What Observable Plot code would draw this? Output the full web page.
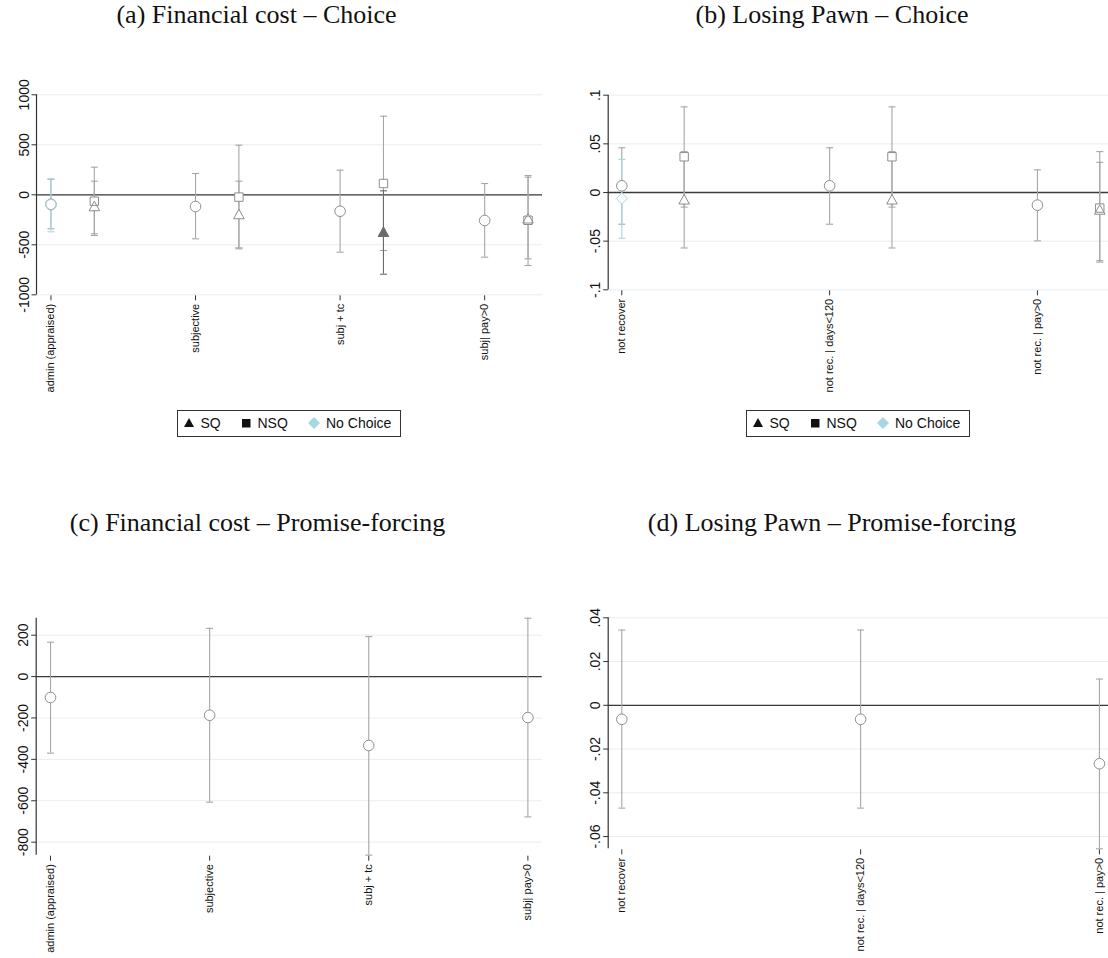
<!DOCTYPE html>
<html><head><meta charset="utf-8">
<script src="https://cdn.jsdelivr.net/npm/d3@7"></script>
<script src="https://cdn.jsdelivr.net/npm/@observablehq/plot@0.6"></script>
<style>
body{margin:0;background:#fff;}
#root{position:relative;width:1108px;height:958px;overflow:hidden;font-family:"Liberation Sans",Arial,sans-serif;}
.title{position:absolute;font-family:"Liberation Serif","Times New Roman",serif;font-size:26px;line-height:26px;white-space:nowrap;transform:translateX(-50%);color:#111;}
.legend{position:absolute;width:224px;height:27px;border:1px solid #333;box-sizing:border-box;font-size:14px;color:#111;}
.legend span{position:absolute;top:4px;line-height:16px;}
.legend svg{position:absolute;top:6px;}
</style></head><body><div id="root"></div>
<script>
// ---------- data ----------
const finCats = ["admin (appraised)", "subjective", "subj + tc", "subj| pay>0"];
const pawnCats = ["not recover", "not rec. | days<120", "not rec. | pay>0"];

// (a) Financial cost – Choice
const aAllEst = [-95, -117, -164, -257];
const aAllLo  = [-340, -440, -574, -624];
const aAllHi  = [155, 213, 246, 113];
const aSqEst  = [-117, -197, -374, -240];
const aSqLo   = [-390, -530, -794, -640];
const aSqHi   = [136, 136, 40, 176];
const aSqSig  = [false, false, true, false];
const aNsqEst = [-64, -23, 113, -255];
const aNsqLo  = [-407, -540, -557, -707];
const aNsqHi  = [276, 496, 786, 193];
const aNoChEst = [-100];
const aNoChLo  = [-370];
const aNoChHi  = [160];
const aTicks  = [-1000, -500, 0, 500, 1000];
const aTickLabels = ["-1000", "-500", "0", "500", "1000"];

// (b) Losing Pawn – Choice
const bAllEst = [0.0069, 0.0069, -0.013];
const bAllLo  = [-0.0326, -0.0326, -0.0497];
const bAllHi  = [0.046, 0.046, 0.0233];
const bSqEst  = [-0.0075, -0.0075, -0.018];
const bSqLo   = [-0.057, -0.057, -0.070];
const bSqHi   = [0.042, 0.042, 0.031];
const bSqSig  = [false, false, false];
const bNsqEst = [0.0367, 0.0367, -0.016];
const bNsqLo  = [-0.015, -0.015, -0.0716];
const bNsqHi  = [0.088, 0.088, 0.042];
const bNoChEst = [-0.0062];
const bNoChLo  = [-0.047];
const bNoChHi  = [0.034];
const bTicks  = [-0.1, -0.05, 0, 0.05, 0.1];
const bTickLabels = ["-.1", "-.05", "0", ".05", ".1"];

// (c) Financial cost – Promise-forcing
const cEst = [-101, -187, -333, -198];
const cLo  = [-370, -607, -863, -678];
const cHi  = [166, 233, 193, 282];
const cTicks = [-800, -600, -400, -200, 0, 200];
const cTickLabels = ["-800", "-600", "-400", "-200", "0", "200"];

// (d) Losing Pawn – Promise-forcing
const dEst = [-0.0064, -0.0064, -0.0267];
const dLo  = [-0.047, -0.047, -0.0656];
const dHi  = [0.0344, 0.0344, 0.012];
const dTicks = [-0.06, -0.04, -0.02, 0, 0.02, 0.04];
const dTickLabels = ["-.06", "-.04", "-.02", "0", ".02", ".04"];

const titles = ["(a) Financial cost – Choice", "(b) Losing Pawn – Choice",
                "(c) Financial cost – Promise-forcing", "(d) Losing Pawn – Promise-forcing"];
const legendItems = ["SQ", "NSQ", "No Choice"];

// ---------- styling ----------
const GRAY = "#8e8e8e", CI = "#a6a6a6", DARK = "#6a6a6a", BLUE = "#a8d6e4";
const rad = s => Math.sqrt(s / Math.PI);
const capSym = {draw(c, s){ const r = rad(s); c.moveTo(-r, 0); c.lineTo(r, 0); }};
const vSym   = {draw(c, s){ const r = rad(s); c.moveTo(0, -r); c.lineTo(0, r); }};
const hSym   = capSym;
const triSym = {draw(c, s){ const r = rad(s); c.moveTo(0, -r); c.lineTo(r, 0.8 * r); c.lineTo(-r, 0.8 * r); c.closePath(); }};
const sqSym  = {draw(c, s){ const r = rad(s); c.rect(-r, -r, 2 * r, 2 * r); }};
const diaSym = {draw(c, s){ const r = rad(s); c.moveTo(0, -r); c.lineTo(r, 0); c.lineTo(0, r); c.lineTo(-r, 0); c.closePath(); }};

function rows(est, lo, hi, offset, sig) {
  return est.map((e, i) => ({x: i + 1 + offset, est: e, lo: lo[i], hi: hi[i], sig: sig ? sig[i] : false}));
}

function panel(cfg) {
  const xTicks = cfg.xLabels.map((d, i) => i + 1);
  const marks = [
    Plot.ruleY(cfg.yTicks, {y: d => d, stroke: "#e5eef1", strokeWidth: 1}),
    Plot.ruleY([0], {y: d => d, stroke: "#3a3a3a", strokeWidth: 1.3}),
    Plot.ruleX([cfg.xDom[0]], {x: d => d, stroke: "#333", strokeWidth: 1.2}),
    Plot.dot(cfg.yTicks, {y: d => d, frameAnchor: "left", dx: -2.5, symbol: hSym, r: 2.5, stroke: "#333", strokeWidth: 1}),
    Plot.text(cfg.yTicks, {y: d => d, text: (d, i) => cfg.yLabels[i], frameAnchor: "left", dx: -8, rotate: -90,
      lineAnchor: "bottom", textAnchor: "middle", fontSize: 14, fill: "#111"}),
    Plot.dot(xTicks, {x: d => d, frameAnchor: "bottom", dy: 3, symbol: vSym, r: 2.5, stroke: "#333", strokeWidth: 1}),
    Plot.text(xTicks, {x: d => d, text: (d, i) => cfg.xLabels[i], frameAnchor: "bottom", dy: 9, rotate: -90,
      textAnchor: "end", lineAnchor: "middle", fontSize: 11, fill: "#111"})
  ];
  // confidence intervals first
  for (const s of cfg.series) {
    const col = d => d.sig ? DARK : s.ci;
    marks.push(Plot.ruleX(s.rows, {x: "x", y1: "lo", y2: "hi", stroke: col, strokeWidth: 1.1}));
    marks.push(Plot.dot(s.rows, {x: "x", y: "lo", symbol: capSym, r: 3.5, stroke: col, strokeWidth: 1.1}));
    marks.push(Plot.dot(s.rows, {x: "x", y: "hi", symbol: capSym, r: 3.5, stroke: col, strokeWidth: 1.1}));
  }
  // white backing of the markers
  for (const s of cfg.series) {
    marks.push(Plot.dot(s.rows, {x: "x", y: "est", symbol: s.symbol, r: s.r, fill: d => d.sig ? DARK : "white", stroke: "none"}));
  }
  // marker outlines
  for (const s of cfg.series) {
    marks.push(Plot.dot(s.rows, {x: "x", y: "est", symbol: s.symbol, r: s.r,
      stroke: d => d.sig ? DARK : s.stroke, fill: "none", strokeWidth: 1}));
  }
  const svg = Plot.plot({
    width: cfg.w, height: cfg.h,
    marginLeft: cfg.m[0], marginRight: cfg.m[1], marginTop: cfg.m[2], marginBottom: cfg.m[3],
    x: {type: "linear", domain: cfg.xDom, axis: null},
    y: {type: "linear", domain: cfg.yDom, axis: null},
    style: {fontFamily: "'Liberation Sans', Arial, sans-serif", background: "transparent", overflow: "visible"},
    marks
  });
  svg.style.position = "absolute";
  svg.style.left = cfg.left + "px";
  svg.style.top = cfg.top + "px";
  document.getElementById("root").appendChild(svg);
}

const root = document.getElementById("root");

panel({left: 0, top: 60, w: 554, h: 380, m: [36, 12, 34.3, 145.7],
  xDom: [0.9, 4.4], yDom: [-1000, 1000], yTicks: aTicks, yLabels: aTickLabels, xLabels: finCats,
  series: [
    {rows: rows(aAllEst, aAllLo, aAllHi, 0), symbol: "circle", r: 5.3, stroke: GRAY, ci: CI},
    {rows: rows(aNsqEst, aNsqLo, aNsqHi, 0.3), symbol: sqSym, r: 4.2, stroke: GRAY, ci: CI},
    {rows: rows(aSqEst, aSqLo, aSqHi, 0.3, aSqSig), symbol: triSym, r: 5.3, stroke: GRAY, ci: CI},
    {rows: rows(aNoChEst, aNoChLo, aNoChHi, 0), symbol: "circle", r: 5.3, stroke: BLUE, ci: BLUE}
  ]});

panel({left: 554, top: 60, w: 554, h: 380, m: [53.7, 0, 34.7, 150.7],
  xDom: [0.9345, 3.342], yDom: [-0.1, 0.1], yTicks: bTicks, yLabels: bTickLabels, xLabels: pawnCats,
  series: [
    {rows: rows(bAllEst, bAllLo, bAllHi, 0), symbol: "circle", r: 5.3, stroke: GRAY, ci: CI},
    {rows: rows(bNsqEst, bNsqLo, bNsqHi, 0.3), symbol: sqSym, r: 4.2, stroke: GRAY, ci: CI},
    {rows: rows(bSqEst, bSqLo, bSqHi, 0.3, bSqSig), symbol: triSym, r: 5.3, stroke: GRAY, ci: CI},
    {rows: rows(bNoChEst, bNoChLo, bNoChHi, 0), symbol: diaSym, r: 5.5, stroke: BLUE, ci: BLUE}
  ]});

panel({left: 0, top: 560, w: 554, h: 398, m: [35.7, 12.3, 57.7, 103.3],
  xDom: [0.91, 4.09], yDom: [-863, 282], yTicks: cTicks, yLabels: cTickLabels, xLabels: finCats,
  series: [{rows: rows(cEst, cLo, cHi, 0), symbol: "circle", r: 5.3, stroke: GRAY, ci: CI}]});

panel({left: 554, top: 560, w: 554, h: 398, m: [53.7, 0, 57.3, 109.7],
  xDom: [0.943, 3.038], yDom: [-0.0656, 0.04], yTicks: dTicks, yLabels: dTickLabels, xLabels: pawnCats,
  series: [{rows: rows(dEst, dLo, dHi, 0), symbol: "circle", r: 5.3, stroke: GRAY, ci: CI}]});

// titles
const titlePos = [[256.5, 1.5], [832, 1.5], [257.5, 510], [832, 510]];
titles.forEach((t, i) => {
  const d = document.createElement("div");
  d.className = "title";
  d.textContent = t;
  d.style.left = titlePos[i][0] + "px";
  d.style.top = titlePos[i][1] + "px";
  root.appendChild(d);
});

// legends
function legend(left, top) {
  const box = document.createElement("div");
  box.className = "legend";
  box.style.left = left + "px";
  box.style.top = top + "px";
  const icons = [
    `<svg width="12" height="12" style="left:5px"><path d="M6,1 L11,10 L1,10 Z" fill="#111"/></svg>`,
    `<svg width="12" height="12" style="left:62px"><rect x="2" y="2" width="8.5" height="8.5" fill="#111"/></svg>`,
    `<svg width="14" height="14" style="left:129px;top:5px"><path d="M7,1 L13,7 L7,13 L1,7 Z" fill="${BLUE}"/></svg>`
  ];
  const textLeft = [22.5, 79.5, 148];
  box.innerHTML = icons.join("") + legendItems.map((t, i) => `<span style="left:${textLeft[i]}px">${t}</span>`).join("");
  root.appendChild(box);
}
legend(177, 410);
legend(746, 410);
</script></body></html>
